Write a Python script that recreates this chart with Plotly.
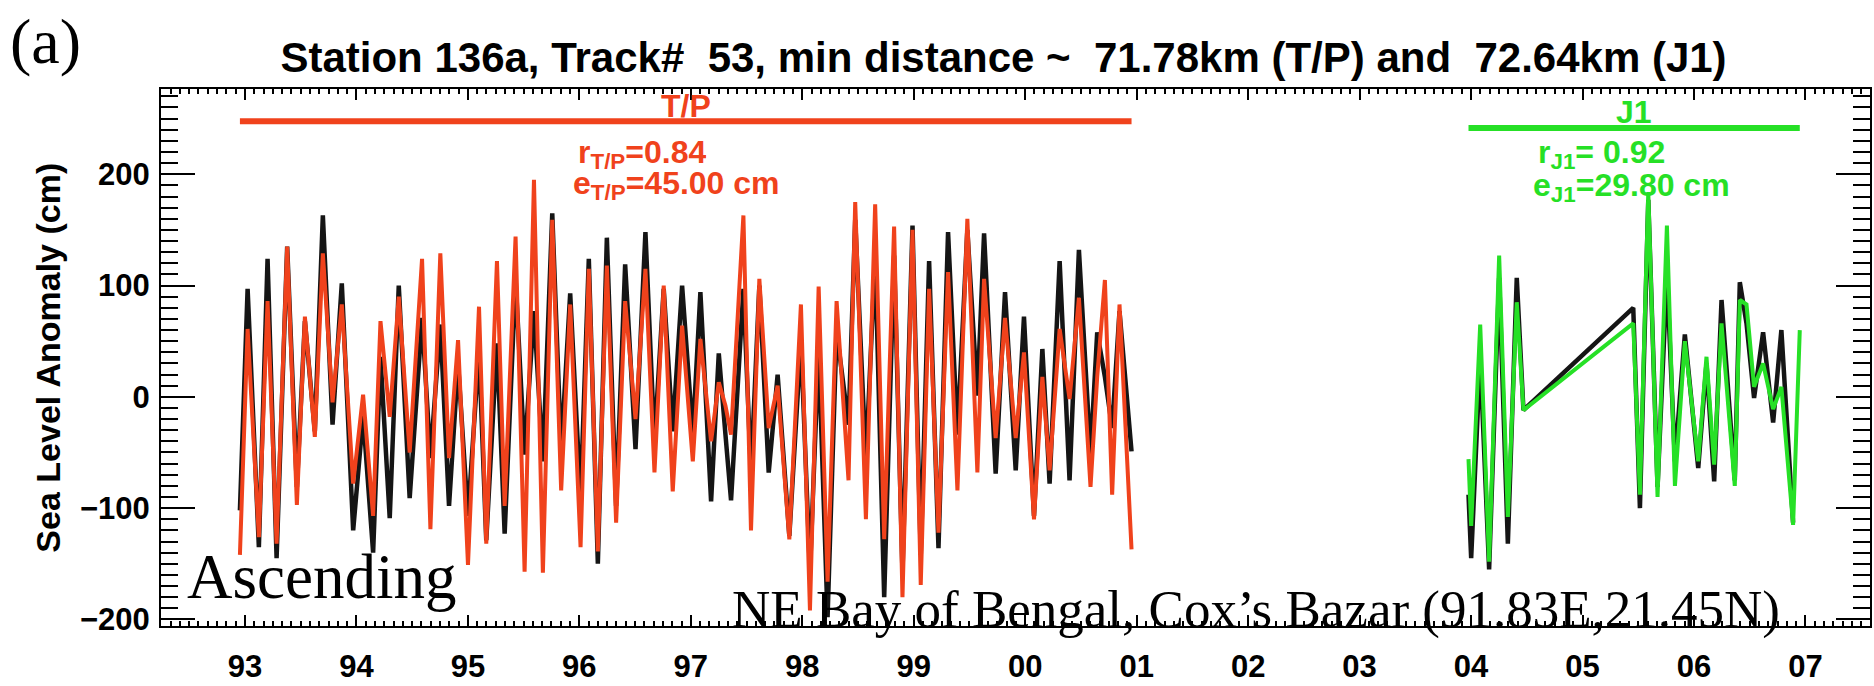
import plotly.graph_objects as go

# ---------------------------------------------------------------------------
# Station / track information
station = "136a"
track = 53
tp_dist_km = 71.78
j1_dist_km = 72.64
site_label = "NE Bay of Bengal, Cox\u2019s Bazar (91.83E,21.45N)"
pass_label = "Ascending"
panel_label = "(a)"

# Skill statistics
tp_r, tp_e = 0.84, 45.00
j1_r, j1_e = 0.92, 29.80

# Year axis ticks
year_ticks = list(range(1993, 2008))
year_labels = ["93", "94", "95", "96", "97", "98", "99", "00",
               "01", "02", "03", "04", "05", "06", "07"]

# T/P period (decimal year): tide gauge (black) and T/P altimetry (red), cm
tp_year = [1992.955, 1993.024, 1993.125, 1993.203, 1993.284, 1993.379, 1993.466,
           1993.538, 1993.627, 1993.699, 1993.786, 1993.869, 1993.971, 1994.060,
           1994.150, 1994.216, 1994.299, 1994.380, 1994.478, 1994.589, 1994.664,
           1994.753, 1994.831, 1994.912, 1995.001, 1995.100, 1995.165, 1995.261,
           1995.330, 1995.428, 1995.509, 1995.593, 1995.673, 1995.757, 1995.837,
           1995.918, 1996.011, 1996.085, 1996.166, 1996.247, 1996.330, 1996.411,
           1996.504, 1996.593, 1996.674, 1996.757, 1996.838, 1996.922, 1997.018,
           1997.086, 1997.182, 1997.251, 1997.311, 1997.361, 1997.472, 1997.540,
           1997.615, 1997.699, 1997.779, 1997.884, 1997.988, 1998.069, 1998.147,
           1998.227, 1998.308, 1998.415, 1998.475, 1998.571, 1998.654, 1998.735,
           1998.824, 1998.899, 1998.989, 1999.063, 1999.138, 1999.222, 1999.308,
           1999.392, 1999.481, 1999.571, 1999.631, 1999.735, 1999.819, 1999.915,
           1999.989, 2000.079, 2000.154, 2000.219, 2000.309, 2000.398, 2000.482,
           2000.586, 2000.646, 2000.715, 2000.780, 2000.846, 2000.954]
tp_gauge = [-102, 97, -135, 124, -145, 135, -81, 68, -31, 163, -25, 102, -120, -17,
            -140, 36, -109, 100, -91, 71, -55, 65, -98, 30, -107, 42, -129, 48,
            -123, 106, -52, 77, -58, 165, -49, 93, -91, 124, -150, 143, -98, 119,
            -47, 148, -40, 97, -31, 100, -34, 94, -94, 39, -34, -93, 97, -69,
            100, -68, 20, -125, 51, -157, 42, -198, 59, -25, 159, -58, 127, -180,
            127, -157, 154, -142, 122, -136, 148, -34, 150, 1, 147, -69, 94, -66,
            72, -107, 43, -78, 122, -75, 132, -52, 58, 18, -28, 77, -49]
tp_alt = [-142, 61, -126, 86, -132, 135, -97, 72, -36, 129, -5, 83, -78, 2,
          -107, 68, -18, 90, -50, 124, -119, 129, -55, 51, -151, 81, -132, 122,
          -98, 144, -157, 195, -158, 159, -84, 83, -135, 115, -139, 118, -113, 86,
          -20, 115, -68, 100, -85, 64, -58, 52, -40, 13, -8, -34, 163, -120,
          106, -28, 10, -128, 83, -192, 99, -166, 86, -75, 175, -110, 173, -128,
          153, -180, 150, -169, 97, -122, 112, -84, 160, -68, 106, -37, 71, -37,
          40, -110, 18, -66, 61, -2, 89, -81, 18, 105, -88, 83, -137]

# Jason-1 period: tide gauge (black) and J1 altimetry (green), cm
j1_year = [2003.977, 2004.001, 2004.082, 2004.162, 2004.252, 2004.330, 2004.410,
           2004.470, 2005.455, 2005.515, 2005.590, 2005.673, 2005.757, 2005.829,
           2005.918, 2006.038, 2006.112, 2006.181, 2006.247, 2006.366, 2006.411,
           2006.471, 2006.539, 2006.620, 2006.710, 2006.784, 2006.889, 2006.949]
j1_alt = [-56, -116, 65, -148, 127, -108, 85, -12, 66, -88, 184, -90, 154, -80,
          50, -58, 36, -61, 66, -80, 87, 83, 9, 30, -11, 9, -115, 60]
j1_gauge_year = j1_year[:-1]
j1_gauge = [-88, -145, 36, -155, 107, -132, 107, -12, 80, -100, 177, -81, 110, -58,
            56, -64, 30, -76, 87, -75, 103, 66, -1, 58, -23, 60, -113]

# ---------------------------------------------------------------------------
# Styling / page geometry
W, H = 1874, 686
ML, MR, MT, MB = 161, 2, 89, 47
PW, PH = W - ML - MR, H - MT - MB

RED = "#F0421C"
GREEN = "#26E026"
BLACK = "#151515"
SANS = "Liberation Sans"
SERIF = "Liberation Serif"


def px_x(p):
    return (p - ML) / PW


def px_y(p):
    return (H - MB - p) / PH


def sp(s):
    # keep runs of spaces visible in SVG text
    return s.replace("  ", "\u00a0 ")


fig = go.Figure()

fig.add_trace(go.Scatter(x=tp_year, y=tp_gauge, mode="lines",
                         line=dict(color=BLACK, width=4.5), hoverinfo="skip"))
fig.add_trace(go.Scatter(x=tp_year, y=tp_alt, mode="lines",
                         line=dict(color=RED, width=4), hoverinfo="skip"))
fig.add_trace(go.Scatter(x=j1_gauge_year, y=j1_gauge, mode="lines",
                         line=dict(color=BLACK, width=4.5), hoverinfo="skip"))
fig.add_trace(go.Scatter(x=j1_year, y=j1_alt, mode="lines",
                         line=dict(color=GREEN, width=4), hoverinfo="skip"))

# mission span bars
TP_BAR_Y, J1_BAR_Y = 247.6, 241.5
fig.add_shape(type="line", xref="x", yref="y", x0=tp_year[0], x1=tp_year[-1],
              y0=TP_BAR_Y, y1=TP_BAR_Y, line=dict(color=RED, width=6))
fig.add_shape(type="line", xref="x", yref="y", x0=j1_year[0], x1=j1_year[-1],
              y0=J1_BAR_Y, y1=J1_BAR_Y, line=dict(color=GREEN, width=6))

leg_font = dict(family=SANS, size=32, weight="bold")
tp_mid = 0.5 * (tp_year[0] + tp_year[-1])
j1_mid = 0.5 * (j1_year[0] + j1_year[-1])
STAT_H = 30  # compact box height for the stacked statistic lines

annotations = [
    dict(text="T/P", xref="x", yref="paper", x=tp_mid, y=px_y(106.5),
         xanchor="center", yanchor="middle", font=dict(leg_font, color=RED)),
    dict(text=f"r<sub>T/P</sub>={tp_r:.2f}", xref="paper", yref="paper",
         x=px_x(576), y=px_y(156), xanchor="left", yanchor="middle",
         height=STAT_H, font=dict(leg_font, color=RED)),
    dict(text=f"e<sub>T/P</sub>={tp_e:.2f} cm", xref="paper", yref="paper",
         x=px_x(571), y=px_y(187), xanchor="left", yanchor="middle",
         height=STAT_H, font=dict(leg_font, color=RED)),
    dict(text="J1", xref="x", yref="paper", x=j1_mid, y=px_y(112.5),
         xanchor="center", yanchor="middle", font=dict(leg_font, color=GREEN)),
    dict(text=f"r<sub>J1</sub>= {j1_r:.2f}", xref="paper", yref="paper",
         x=px_x(1538), y=px_y(156), xanchor="left", yanchor="middle",
         height=STAT_H, font=dict(leg_font, color=GREEN)),
    dict(text=f"e<sub>J1</sub>={j1_e:.2f} cm", xref="paper", yref="paper",
         x=px_x(1533), y=px_y(189), xanchor="left", yanchor="middle",
         height=STAT_H, font=dict(leg_font, color=GREEN)),
    dict(text=pass_label, xref="paper", yref="paper", x=px_x(185), y=px_y(589),
         xanchor="left", yanchor="middle",
         font=dict(family=SERIF, size=63, color="black")),
    dict(text=site_label, xref="paper", yref="paper", x=px_x(1784), y=px_y(622),
         xanchor="right", yanchor="middle",
         font=dict(family=SERIF, size=53, color="black")),
    dict(text=panel_label, xref="paper", yref="paper", x=px_x(8), y=px_y(40),
         xanchor="left", yanchor="middle",
         font=dict(family=SERIF, size=64, color="black")),
    dict(text="Sea Level Anomaly (cm)", xref="paper", yref="paper",
         x=px_x(47), y=px_y(364), xanchor="center", yanchor="middle",
         textangle=-90, font=dict(family=SANS, size=34, weight="bold", color="black")),
]
for a in annotations:
    a["showarrow"] = False
    fig.add_annotation(**a)

title = sp(f"Station {station}, Track# {track:3d}, min distance ~ {tp_dist_km:6.2f}km (T/P)"
           f" and {j1_dist_km:6.2f}km (J1)")

axis_common = dict(showline=True, linecolor="black", linewidth=2, mirror="allticks",
                   ticks="inside", tickcolor="black", showgrid=False, zeroline=False,
                   tickfont=dict(family=SANS, size=31, weight="bold", color="black"))

fig.update_layout(
    width=W, height=H,
    margin=dict(l=ML, r=MR, t=MT, b=MB),
    paper_bgcolor="white", plot_bgcolor="white",
    showlegend=False, hovermode=False,
    title=dict(text=title, x=0.5 - 12 / PW, xref="paper", xanchor="center",
               y=1 - 57.5 / H, yref="container", yanchor="middle",
               font=dict(family=SANS, size=42, weight="bold", color="black")),
    xaxis=dict(axis_common, range=[1992.247, 2007.579], tickmode="array",
               tickvals=year_ticks, ticktext=year_labels, ticklen=11, tickwidth=2,
               ticklabelstandoff=12,
               minor=dict(tickmode="linear", tick0=1993, dtick=1 / 12, ticklen=5,
                          tickwidth=1.5, tickcolor="black", ticks="inside")),
    yaxis=dict(axis_common, range=[-205.9, 276.6], tickmode="linear", tick0=0,
               dtick=100, ticklen=34, tickwidth=2, ticklabelstandoff=3,
               minor=dict(tickmode="linear", tick0=0, dtick=10, ticklen=17,
                          tickwidth=2, tickcolor="black", ticks="inside")),
)

fig.write_html("out.html")
